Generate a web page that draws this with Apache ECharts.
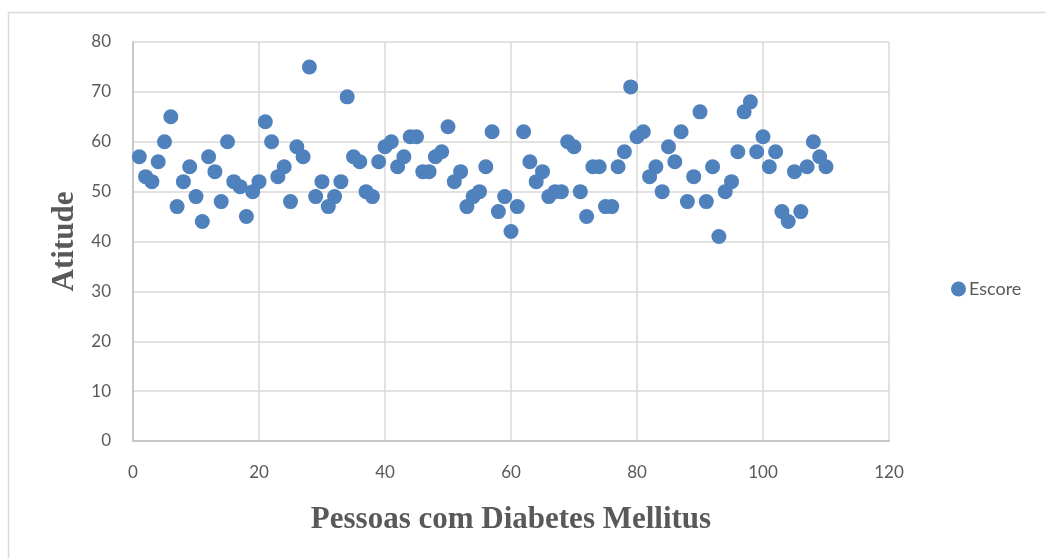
<!DOCTYPE html>
<html>
<head>
<meta charset="utf-8">
<script src="https://cdn.jsdelivr.net/npm/echarts@6/dist/echarts.min.js"></script>
<style>
html,body{margin:0;padding:0;background:#fff;}
#chart{width:1046px;height:558px;}
</style>
</head>
<body>
<div id="chart"></div>
<script>
const seriesName = 'Escore';
const xTitle = 'Pessoas com Diabetes Mellitus';
const yTitle = 'Atitude';
const personIds = Array.from({length: 110}, (_, i) => i + 1);
const scores = [
  57,53,52,56,60,65,47,52,55,49,
  44,57,54,48,60,52,51,45,50,52,
  64,60,53,55,48,59,57,75,49,52,
  47,49,52,69,57,56,50,49,56,59,
  60,55,57,61,61,54,54,57,58,63,
  52,54,47,49,50,55,62,46,49,42,
  47,62,56,52,54,49,50,50,60,59,
  50,45,55,55,47,47,55,58,71,61,
  62,53,55,50,59,56,62,48,53,66,
  48,55,41,50,52,58,66,68,58,61,
  55,58,46,44,54,46,55,60,57,55
];
const xTicks = {min: 0, max: 120, interval: 20};
const yTicks = {min: 0, max: 80, interval: 10};

const points = personIds.map((id, i) => [id, scores[i]]);

const chart = echarts.init(document.getElementById('chart'), null, {renderer: 'canvas'});
const labelFont = 'Lato, "Liberation Sans", sans-serif';
const titleFont = '"Liberation Serif", "DejaVu Serif", serif';
chart.setOption({
  animation: false,
  backgroundColor: '#fff',
  graphic: [{
    type: 'rect',
    shape: {x: 8.5, y: 12.5, width: 1060, height: 560},
    style: {fill: 'none', stroke: '#d9d9d9', lineWidth: 1.5},
    silent: true
  }],
  grid: {left: 133, right: 157, top: 42, bottom: 117},
  legend: {
    data: [{name: seriesName, icon: 'circle'}],
    left: 946, top: 275,
    itemWidth: 15, itemHeight: 15, itemGap: 5,
    textStyle: {fontFamily: labelFont, fontSize: 18, color: '#595959', padding: [0, 0, 0, -2]}
  },
  xAxis: {
    type: 'value', min: xTicks.min, max: xTicks.max, interval: xTicks.interval,
    name: xTitle, nameLocation: 'middle', nameGap: 63,
    nameTextStyle: {fontFamily: titleFont, fontWeight: 'bold', fontSize: 31, color: '#595959'},
    axisLine: {show: true, lineStyle: {color: '#bfbfbf', width: 1.5}},
    axisTick: {show: false},
    axisLabel: {fontFamily: labelFont, fontSize: 17, color: '#595959', margin: 23},
    splitLine: {show: true, lineStyle: {color: '#d9d9d9', width: 1.5}}
  },
  yAxis: {
    type: 'value', min: yTicks.min, max: yTicks.max, interval: yTicks.interval,
    name: yTitle, nameLocation: 'middle', nameGap: 53, nameRotate: 90,
    nameTextStyle: {fontFamily: titleFont, fontWeight: 'bold', fontSize: 31, color: '#595959'},
    axisLine: {show: true, lineStyle: {color: '#bfbfbf', width: 1.5}},
    axisTick: {show: false},
    axisLabel: {fontFamily: labelFont, fontSize: 17, color: '#595959', margin: 22},
    splitLine: {show: true, lineStyle: {color: '#d9d9d9', width: 1.5}}
  },
  series: [{
    name: seriesName,
    type: 'scatter',
    data: points,
    symbol: 'circle',
    symbolSize: 15,
    itemStyle: {color: '#4F81BD', opacity: 1}
  }]
});
</script>
</body>
</html>
